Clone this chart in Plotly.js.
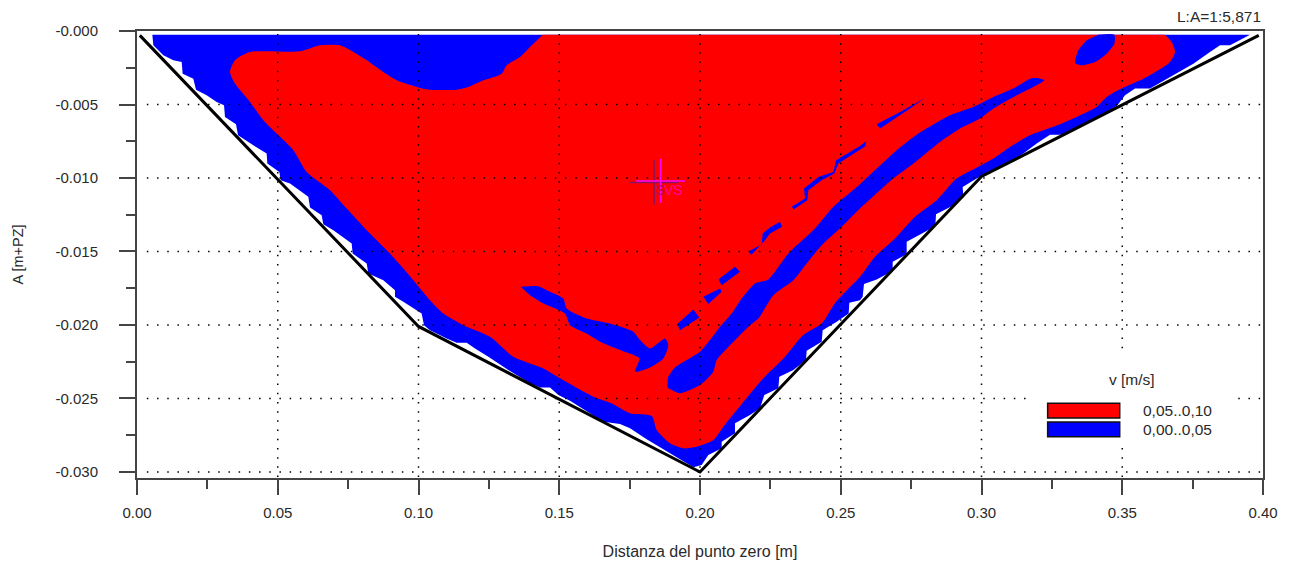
<!DOCTYPE html>
<html>
<head>
<meta charset="utf-8">
<script src="https://cdn.plot.ly/plotly-3.0.1.min.js"></script>
<style>html,body{margin:0;padding:0;background:#fff}#c{width:1290px;height:564px}</style>
</head>
<body>
<div id="c"></div>
<script>
var xTicks=[0,0.05,0.10,0.15,0.20,0.25,0.30,0.35,0.40];
var xLabels=['0.00','0.05','0.10','0.15','0.20','0.25','0.30','0.35','0.40'];
var xMinor=[0.025,0.075,0.125,0.175,0.225,0.275,0.325,0.375];
var yTicks=[0,-0.005,-0.010,-0.015,-0.020,-0.025,-0.030];
var yLabels=['-0.000','-0.005','-0.010','-0.015','-0.020','-0.025','-0.030'];
var yMinor=[-0.0025,-0.0075,-0.0125,-0.0175,-0.0225,-0.0275];

var bedX=[0.001,0.1,0.2,0.3,0.3985];
var bedY=[-0.0003,-0.0201,-0.03,-0.0099,-0.0003];

var lowOuterX=[.00545,.00580,.00935,.01291,.01587,.01622,.02001,.02096,.02475,.02830,.03091,.03126,.03517,.03588,.04133,.04606,.04630,.05056,.05104,.05435,.06086,.06146,.06560,.06619,.06975,.07626,.07661,.08159,.08218,.08751,.09165,.09165,.09461,.10112,.10195,.10409,.11001,.11356,.11711,.12007,.12481,.13191,.13961,.14316,.14671,.14968,.15382,.16566,.17158,.17513,.18105,.19763,.20059,.20296,.20770,.20770,.21243,.21243,.21776,.22131,.22285,.22783,.22818,.23316,.23766,.23789,.24322,.24358,.24855,.25281,.25305,.25684,.25778,.25826,.26276,.26844,.26844,.27342,.27342,.27816,.28360,.28384,.28940,.29355,.29331,.29828,.30125,.30894,.31486,.31960,.32433,.32907,.33440,.33973,.34801,.35098,.35453,.35986,.36814,.37525,.38117,.38472,.38828,.39538];
var lowOuterY=[-.00025,-.00097,-.00165,-.00199,-.00211,-.00290,-.00324,-.00399,-.00437,-.00483,-.00505,-.00585,-.00634,-.00709,-.00777,-.00834,-.00902,-.00959,-.01015,-.01038,-.01128,-.01201,-.01253,-.01314,-.01355,-.01446,-.01514,-.01582,-.01650,-.01695,-.01763,-.01808,-.01842,-.01922,-.02001,-.02035,-.02092,-.02121,-.02121,-.02160,-.02216,-.02307,-.02397,-.02425,-.02425,-.02477,-.02515,-.02658,-.02674,-.02703,-.02778,-.02968,-.02953,-.02885,-.02839,-.02794,-.02737,-.02669,-.02613,-.02567,-.02477,-.02431,-.02352,-.02307,-.02239,-.02175,-.02114,-.02035,-.01978,-.01922,-.01849,-.01831,-.01808,-.01722,-.01690,-.01632,-.01570,-.01518,-.01434,-.01385,-.01328,-.01246,-.01192,-.01133,-.01061,-.01004,-.00974,-.00902,-.00834,-.00766,-.00705,-.00705,-.00653,-.00596,-.00512,-.00437,-.00392,-.00392,-.00301,-.00222,-.00143,-.00097,-.00097,-.00025];

var highX=[.14411,.36519,.36519,.36756,.36874,.36697,.36282,.35749,.35038,.34446,.34091,.33499,.32789,.31723,.31012,.30421,.29769,.29118,.28407,.27638,.26927,.26217,.25684,.24832,.24322,.23671,.23020,.22250,.21362,.20829,.20474,.19882,.19408,.18934,.18461,.18283,.17513,.16862,.16211,.15027,.14435,.13369,.12540,.11593,.10882,.10409,.09817,.08988,.08159,.07448,.06856,.06027,.05554,.04962,.04488,.04014,.03481,.03304,.03481,.04014,.05790,.06501,.07211,.07685,.08159,.08751,.09224,.10053,.10409,.11356,.11711,.12303,.12954,.13132,.13606,.13902,.14411,.14411];
var highY=[-.00025,-.00025,-.00025,-.00075,-.00143,-.00211,-.00267,-.00324,-.00385,-.00449,-.00517,-.00573,-.00634,-.00709,-.00789,-.00868,-.00936,-.01004,-.01151,-.01264,-.01412,-.01536,-.01672,-.01842,-.01990,-.02069,-.02216,-.02363,-.02567,-.02692,-.02783,-.02828,-.02839,-.02805,-.02715,-.02620,-.02601,-.02533,-.02488,-.02363,-.02296,-.02216,-.02080,-.02001,-.01922,-.01831,-.01695,-.01514,-.01355,-.01208,-.01083,-.00959,-.00811,-.00698,-.00607,-.00483,-.00358,-.00279,-.00199,-.00143,-.00138,-.00097,-.00097,-.00143,-.00199,-.00279,-.00335,-.00387,-.00399,-.00399,-.00385,-.00335,-.00290,-.00233,-.00177,-.00120,-.00025,-.00025];

var blobX=[.34150,.34719,.34719,.34446,.34032,.33558,.33321,.33440,.33736];
var blobY=[-.00025,-.00025,-.00086,-.00154,-.00211,-.00233,-.00218,-.00131,-.00063];
var bandX=[.18840,.18875,.19112,.19526,.20000,.20355,.20711,.21125,.21480,.21954,.22427,.23138,.24085,.24737,.25684,.26276,.26986,.27756,.28881,.29710,.30421,.31131,.31723,.31960,.32232,.31842,.31249,.30421,.29947,.29236,.28526,.27579,.26868,.25684,.25033,.24322,.23789,.23316,.22605,.22072,.21776,.21125,.20592,.20474,.20000,.19290,.18875];
var bandY=[-.02420,-.02352,-.02289,-.02239,-.02182,-.02103,-.02012,-.01922,-.01820,-.01718,-.01690,-.01514,-.01344,-.01196,-.01042,-.00936,-.00811,-.00698,-.00573,-.00517,-.00449,-.00392,-.00324,-.00320,-.00335,-.00381,-.00437,-.00528,-.00596,-.00664,-.00755,-.00902,-.01004,-.01208,-.01332,-.01457,-.01582,-.01695,-.01797,-.01956,-.02001,-.02126,-.02239,-.02318,-.02409,-.02465,-.02431];
var wakeX=[.13630,.14257,.14553,.15145,.15263,.15974,.16803,.17632,.17869,.18224,.18757,.18875,.18698,.18224,.17691,.17845,.17158,.16448,.15974,.15382,.15204,.14435,.13961];
var wakeY=[-.01740,-.01736,-.01763,-.01820,-.01888,-.01956,-.01990,-.02046,-.02103,-.02160,-.02092,-.02137,-.02228,-.02289,-.02318,-.02228,-.02171,-.02114,-.02058,-.02001,-.01922,-.01854,-.01797];
var streak1X=[.19195,.19763,.19976,.19290];
var streak1Y=[-.01994,-.01894,-.01949,-.02035];
var streak2X=[.20118,.20711,.20770,.20296];
var streak2Y=[-.01808,-.01752,-.01774,-.01858];
var streak3X=[.20651,.21243,.21421,.20947,.20770];
var streak3Y=[-.01690,-.01604,-.01638,-.01706,-.01729];
var streak4X=[.21752,.22191,.22226,.22487,.22842,.22913,.22487,.22285,.21812];
var streak4Y=[-.01496,-.01453,-.01378,-.01337,-.01298,-.01332,-.01378,-.01428,-.01525];
var streak5X=[.23257,.23730,.23695,.24204,.24737,.24832,.25684,.25897,.25873,.24914,.24772,.24322,.23849,.23813,.23339];
var streak5Y=[-.01196,-.01140,-.01072,-.00993,-.00959,-.00879,-.00782,-.00750,-.00784,-.00902,-.00970,-.01015,-.01083,-.01151,-.01212];
var streak6X=[.26276,.27105,.27993,.27460,.26395];
var streak6Y=[-.00634,-.00551,-.00455,-.00528,-.00664];

var lowName='0,00..0,05', highName='0,05..0,10';
var RED='#ff0000', BLUE='#0000ff', AXIS='#444444', TXT='#2a2a2a', FONT='"Liberation Sans", Arial, sans-serif';

function joined(xs){var o=[];xs.forEach(function(a,i){if(i)o.push(null);o=o.concat(a);});return o;}
var blobsX=joined([blobX,bandX,wakeX]);
var blobsY=joined([blobY,bandY,wakeY]);
var thinX=joined([streak1X,streak2X,streak3X,streak4X,streak5X,streak6X]);
var thinY=joined([streak1Y,streak2Y,streak3Y,streak4Y,streak5Y,streak6Y]);

function fillTrace(x,y,c,n,smooth){return {type:'scatter',mode:'lines',x:x,y:y,fill:'toself',fillcolor:c,line:smooth?{width:0,color:c,shape:'spline',smoothing:smooth}:{width:0,color:c},name:n,hoverinfo:'skip',showlegend:false};}

var crossX=0.186, crossY=-0.0102, armX=0.0087, armY=0.0015;
var shadowX=0.1837, shadowY=-0.0103;
function crossTrace(cx,cy,c){return {type:'scatter',mode:'lines',x:[cx-armX,cx+armX,null,cx,cx],y:[cy,cy,null,cy-armY,cy+armY],line:{color:c,width:1.5},hoverinfo:'skip',showlegend:false};}

var traces=[
 fillTrace(lowOuterX,lowOuterY,BLUE,lowName),
 fillTrace(highX,highY,RED,highName,0.7),
 fillTrace(blobsX,blobsY,BLUE,lowName,0.6),
 fillTrace(thinX,thinY,BLUE,lowName),
 {type:'scatter',mode:'lines',x:bedX,y:bedY,line:{color:'#000',width:3},hoverinfo:'skip',showlegend:false,name:'bed'},
 crossTrace(shadowX,shadowY,'#8a1060'),
 crossTrace(crossX,crossY,'#ff00ff')
];

var shapes=[];
var DOT='1.5px,8.7px';
xTicks.slice(1,-1).forEach(function(v){shapes.push({type:'line',xref:'x',yref:'y',x0:v,x1:v,y0:-0.0002,y1:-0.0304,layer:'above',line:{color:'#000',width:1.5,dash:'1.5px,7.7px'}});});
yTicks.slice(1).forEach(function(v){shapes.push({type:'line',xref:'x',yref:'y',x0:0.0035,x1:0.4,y0:v,y1:v,layer:'above',line:{color:'#000',width:1.5,dash:DOT}});});
// legend box
var legX0=0.3175,legX1=0.389,legY0=-0.0217,legY1=-0.0283;
shapes.push({type:'rect',xref:'x',yref:'y',x0:legX0,x1:legX1,y0:legY0,y1:legY1,layer:'above',line:{width:0},fillcolor:'#fff'});
var swX0=0.3235,swX1=0.3491;
shapes.push({type:'rect',xref:'x',yref:'y',x0:swX0,x1:swX1,y0:-0.02533,y1:-0.02633,layer:'above',line:{color:'#111',width:1.5},fillcolor:RED});
shapes.push({type:'rect',xref:'x',yref:'y',x0:swX0,x1:swX1,y0:-0.02660,y1:-0.02760,layer:'above',line:{color:'#111',width:1.5},fillcolor:BLUE});

function note(text,x,y,anchor,size,color){return {text:text,x:x,y:y,xref:'x',yref:'y',xanchor:anchor,yanchor:'middle',showarrow:false,font:{family:FONT,size:size,color:color||TXT}};}
var annotations=[
 {text:'L:A=1:5,871',xref:'x',yref:'paper',x:0.4,y:1.0,yanchor:'bottom',xanchor:'right',yshift:4,showarrow:false,font:{family:FONT,size:15.5,color:TXT}},
 note('v [m/s]',0.3535,-0.02374,'center',15.5),
 note(highName,0.3565,-0.02583,'left',15.5),
 note(lowName,0.3565,-0.02710,'left',15.5),
 note('S',0.1855,-0.0108,'center',14,'#b01050'),
 note('VS',0.1905,-0.0108,'center',14,'#ff00a0')
];

var layout={
 width:1290,height:564,margin:{l:137,r:27,t:31,b:86,pad:0},
 paper_bgcolor:'#fff',plot_bgcolor:'#fff',showlegend:false,
 font:{family:FONT,size:14,color:TXT},
 xaxis:{range:[0,0.4],tickmode:'array',tickvals:xTicks,ticktext:xLabels,ticks:'outside',ticklen:15,tickwidth:1.6,tickcolor:AXIS,
  minor:{tickmode:'array',tickvals:xMinor,ticks:'outside',ticklen:9,tickwidth:1.6,tickcolor:AXIS,showgrid:false},
  showgrid:false,zeroline:false,showline:true,mirror:true,linecolor:AXIS,linewidth:2,layer:'above traces',
  tickfont:{family:FONT,size:15,color:TXT},ticklabelstandoff:5,
  title:{text:'Distanza del punto zero [m]',font:{family:FONT,size:16,color:TXT},standoff:26}},
 yaxis:{range:[-0.03041,0],tickmode:'array',tickvals:yTicks,ticktext:yLabels,ticks:'outside',ticklen:16,tickwidth:1.6,tickcolor:AXIS,
  minor:{tickmode:'array',tickvals:yMinor,ticks:'outside',ticklen:9,tickwidth:1.6,tickcolor:AXIS,showgrid:false},
  showgrid:false,zeroline:false,showline:true,mirror:true,linecolor:AXIS,linewidth:2,layer:'above traces',
  tickfont:{family:FONT,size:15,color:TXT},ticklabelstandoff:18,
  title:{text:'A [m+PZ]',font:{family:FONT,size:14.5,color:TXT},standoff:28}},
 shapes:shapes,annotations:annotations
};
Plotly.newPlot('c',traces,layout,{displayModeBar:false,responsive:false});
</script>
</body>
</html>
